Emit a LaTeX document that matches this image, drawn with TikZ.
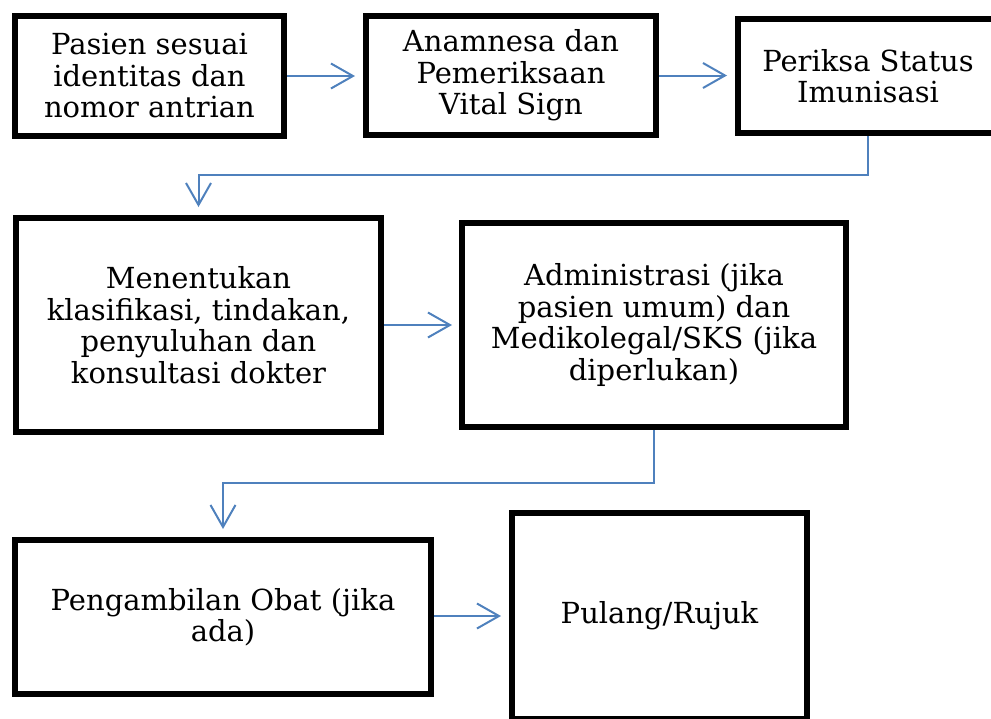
\documentclass[tikz,border=0pt]{standalone}
\usepackage{fontspec}
\setmainfont{DejaVu Serif}
\usetikzlibrary{arrows.meta}

\begin{document}
\begin{tikzpicture}[x=1pt,y=1pt,yscale=-1,xscale=1,
        kotak/.style={draw=black,line width=6pt,fill=white,align=center,inner sep=0pt,font=\fontsize{29}{31.5}\selectfont},
        panah/.style={color={rgb, 255:red, 79; green, 129; blue, 189},line width=2pt,shorten >=8pt,-{Straight Barb[length=22pt,width=25pt,line width=2pt]}}]
        %set diagram left start at 0, and has height of 718
        \path[use as bounding box,clip] (0,0) rectangle (991,718);
        %Shape: Rectangle
        \node[kotak,minimum width=269pt,minimum height=120pt] (pasien) at (149.5,76) {Pasien sesuai\\identitas dan\\nomor antrian};
        %Shape: Rectangle
        \node[kotak,minimum width=290pt,minimum height=119pt] (anamnesa) at (511,75.5) {Anamnesa dan\\Pemeriksaan\\Vital Sign};
        %Shape: Rectangle
        \node[kotak,minimum width=260pt,minimum height=114pt] (periksa) at (868,76) {Periksa Status\\Imunisasi};
        %Shape: Rectangle
        \node[kotak,minimum width=365pt,minimum height=214pt] (menentukan) at (198.5,325) {Menentukan\\klasifikasi, tindakan,\\penyuluhan dan\\konsultasi dokter};
        %Shape: Rectangle
        \node[kotak,minimum width=384pt,minimum height=204pt] (administrasi) at (654,325) {Administrasi (jika\\pasien umum) dan\\Medikolegal/SKS (jika\\diperlukan)};
        %Shape: Rectangle
        \node[kotak,minimum width=416pt,minimum height=154pt] (obat) at (223,617) {Pengambilan Obat (jika\\ada)};
        %Shape: Rectangle
        \node[kotak,minimum width=295pt,minimum height=206pt] (pulang) at (659.5,616) {Pulang/Rujuk};

        %Straight Lines
        \draw[panah] (pasien.east) -- (anamnesa.west |- pasien.east);
        %Straight Lines
        \draw[panah] (anamnesa.east) -- (periksa.west |- anamnesa.east);
        %Elbow Lines
        \draw[panah] (periksa.south) -- ++(0,39) -| (menentukan.north);
        %Straight Lines
        \draw[panah,shorten >=7pt] (menentukan.east) -- (administrasi.west |- menentukan.east);
        %Elbow Lines
        \draw[panah] (administrasi.south) -- ++(0,53) -| (obat.north);
        %Straight Lines
        \draw[panah] (obat.east |- pulang.west) -- (pulang.west);
    \end{tikzpicture}
\end{document}
